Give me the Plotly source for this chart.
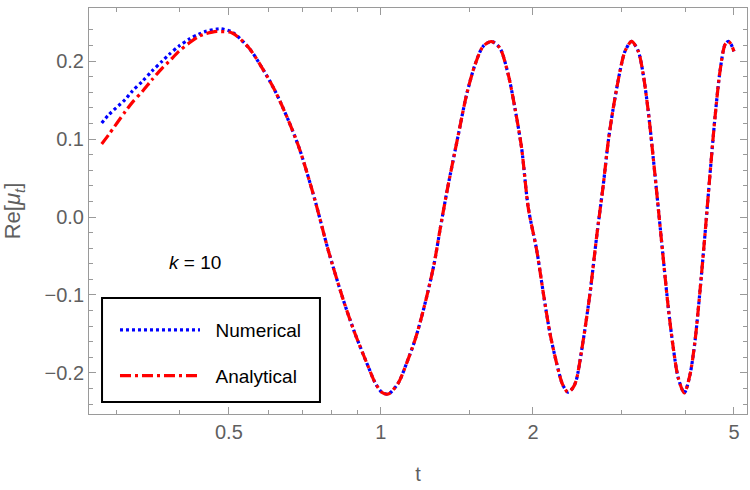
import plotly.graph_objects as go

# t values (log axis) and series values
t_early = [0.280, 0.289, 0.312, 0.322, 0.337, 0.352, 0.369, 0.380, 0.398, 0.417,
           0.436, 0.450, 0.473, 0.4816, 0.5076]
num_early = [0.1205, 0.131, 0.151, 0.1615, 0.174, 0.187, 0.200, 0.208, 0.219, 0.228,
             0.2345, 0.238, 0.241, 0.2414, 0.237]
ana_early = [0.0936, 0.1055, 0.1355, 0.147, 0.161, 0.176, 0.191, 0.199, 0.2124, 0.223,
             0.2316, 0.235, 0.238, 0.2378, 0.236]

t_late = [0.548, 0.582, 0.618, 0.657, 0.691, 0.740, 0.786, 0.842, 0.888, 0.944,
          0.973, 1.005, 1.034, 1.082, 1.124, 1.168, 1.204, 1.241, 1.275, 1.309,
          1.349, 1.423, 1.478, 1.535, 1.594, 1.656, 1.720, 1.787, 1.842, 1.899,
          1.958, 2.034, 2.097, 2.161, 2.228, 2.290, 2.346, 2.400, 2.437, 2.515,
          2.594, 2.674, 2.756, 2.819, 2.884, 2.974, 3.042, 3.136, 3.233, 3.307,
          3.383, 3.461, 3.541, 3.622, 3.707, 3.792, 3.879, 3.987, 4.092, 4.186,
          4.282, 4.381, 4.482, 4.585, 4.692, 4.800, 4.873, 4.930, 5.000]
val_late = [0.2167, 0.191, 0.161, 0.1227, 0.086, 0.022, -0.042, -0.106, -0.149, -0.192,
            -0.212, -0.225, -0.227, -0.213, -0.1876, -0.1577, -0.1278, -0.0936, -0.0594, -0.0167,
            0.0304, 0.1055, 0.157, 0.195, 0.219, 0.225, 0.2167, 0.1825, 0.1397, 0.0885,
            0.0115, -0.0423, -0.0978, -0.149, -0.1876, -0.215, -0.2245, -0.219, -0.209, -0.158,
            -0.0978, -0.025, 0.0414, 0.097, 0.1397, 0.187, 0.2124, 0.2252, 0.2124, 0.1825,
            0.1355, 0.0756, 0.0115, -0.0526, -0.1167, -0.168, -0.2064, -0.2255, -0.2022, -0.1594,
            -0.0953, -0.0227, 0.0542, 0.127, 0.187, 0.221, 0.2252, 0.222, 0.2124]

t_vals = t_early + t_late
numerical = num_early + val_late
analytical = ana_early + val_late

x_tickvals = [0.5, 1, 2, 5]
x_ticktext = ["0.5", "1", "2", "5"]
x_minor = [0.3, 0.4, 0.6, 0.7, 0.8, 0.9, 1.5, 3, 4]
y_tickvals = [-0.2, -0.1, 0.0, 0.1, 0.2]
y_minor = [round(-0.24 + 0.02 * i, 2) for i in range(25)]

FONT = "Liberation Sans, Arial, sans-serif"
GRAY = "#5f5f5f"
FRAME = "#9a9a9a"
NB = "\u00a0"

fig = go.Figure()
fig.add_trace(go.Scatter(
    x=t_vals, y=numerical, mode="lines", name=NB * 2 + "Numerical", legendgroup="a",
    line=dict(color="#0000ff", width=3.2, dash="3px,3px", shape="spline", smoothing=0.8)))
fig.add_trace(go.Scatter(
    x=t_vals, y=analytical, mode="lines", name=NB * 2 + "Analytical", legendgroup="b",
    line=dict(color="#ff0000", width=3.2, dash="11px,4px,3px,4px", shape="spline", smoothing=0.8)))

fig.update_layout(
    width=750, height=490,
    margin=dict(l=89, r=3, t=8, b=76),
    paper_bgcolor="white", plot_bgcolor="white",
    font=dict(family=FONT, size=19, color=GRAY),
    showlegend=True,
    legend=dict(
        x=0.0395, y=0.2537, xanchor="left", yanchor="top",
        borderwidth=0, bgcolor="rgba(0,0,0,0)",
        font=dict(family=FONT, size=19, color="black"),
        itemwidth=80, tracegroupgap=18, traceorder="grouped",
    ),
    shapes=[dict(
        type="rect", xref="paper", yref="paper",
        x0=0.0198, x1=0.351, y0=0.0296, y1=0.2857,
        line=dict(color="black", width=2), fillcolor="white", layer="below")],
    annotations=[dict(
        x=0.1185, y=0.372, xref="paper", yref="paper", showarrow=False,
        xanchor="left",
        text="<i>k</i> = 10", font=dict(family=FONT, size=19, color="black"))],
)

fig.update_xaxes(
    type="log", range=[-0.578, 0.7248],
    tickmode="array", tickvals=x_tickvals, ticktext=x_ticktext,
    ticks="inside", ticklen=7, tickwidth=1, tickcolor=FRAME,
    minor=dict(tickmode="array", tickvals=x_minor, ticks="inside", ticklen=4,
               tickwidth=1, tickcolor=FRAME, showgrid=False),
    showline=True, linecolor=FRAME, linewidth=1, mirror="ticks",
    showgrid=False, zeroline=False,
    tickfont=dict(family=FONT, size=20, color=GRAY),
    title=dict(text="t", font=dict(family=FONT, size=20, color=GRAY), standoff=24),
)
fig.update_yaxes(
    range=[-0.2526, 0.268],
    tickmode="array", tickvals=y_tickvals, tickformat=".1f",
    ticks="inside", ticklen=7, tickwidth=1, tickcolor=FRAME,
    minor=dict(tickmode="array", tickvals=y_minor, ticks="inside", ticklen=4,
               tickwidth=1, tickcolor=FRAME, showgrid=False),
    showline=True, linecolor=FRAME, linewidth=1, mirror="ticks",
    showgrid=False, zeroline=False,
    tickfont=dict(family=FONT, size=20, color=GRAY),
    title=dict(text="Re[<i>μ</i><sub><i>t</i></sub>]",
               font=dict(family=FONT, size=22, color=GRAY), standoff=20),
)

fig.write_html("out.html")
